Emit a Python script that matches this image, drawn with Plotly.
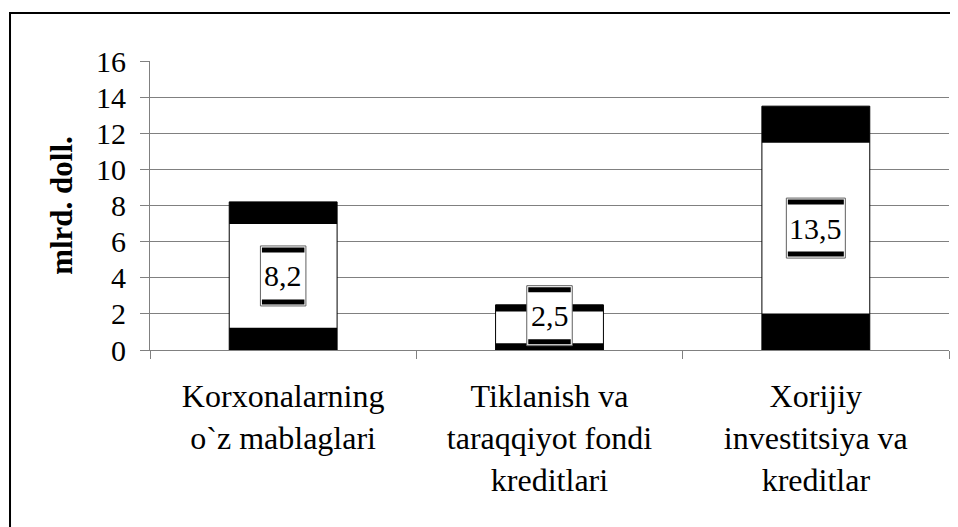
import plotly.graph_objects as go

categories = ["Korxonalarning<br>o`z mablaglari",
              "Tiklanish va<br>taraqqiyot fondi<br>kreditlari",
              "Xorijiy<br>investitsiya va<br>kreditlar"]
values = [8.2, 2.5, 13.5]
y_ticks = [0, 2, 4, 6, 8, 10, 12, 14, 16]
y_title = "mlrd. doll."

FONT = "Liberation Serif"
BAND = 0.15          # share of bar height drawn as black band (styling)
BOX_H = 60           # label box height in px
BOX_BAND = 5         # black band in label box, px

labels = [f"{v:.1f}".replace(".", ",") for v in values]
bands = [v * BAND for v in values]

fig = go.Figure()
# white body with black outline
fig.add_trace(go.Bar(x=categories, y=values, marker=dict(color="white", line=dict(color="black", width=1)),
                     hoverinfo="skip", showlegend=False))
# bottom black band
fig.add_trace(go.Bar(x=categories, y=bands, base=[0]*len(values), marker=dict(color="black", line=dict(width=0)),
                     hoverinfo="skip", showlegend=False))
# top black band
fig.add_trace(go.Bar(x=categories, y=bands, base=[v - b for v, b in zip(values, bands)],
                     marker=dict(color="black", line=dict(width=0)), hoverinfo="skip", showlegend=False))

shapes = []
annotations = []
for i, (v, lab) in enumerate(zip(values, labels)):
    yc = max(v / 2, 1.9)
    w = 13.5 * len(lab) + 5
    common = dict(xref="x", yref="y", xsizemode="pixel", ysizemode="pixel", xanchor=i, yanchor=yc, layer="above")
    shapes.append(dict(type="rect", x0=-w / 2, x1=w / 2, y0=-BOX_H / 2, y1=BOX_H / 2,
                       fillcolor="white", line=dict(color="#606060", width=1), **common))
    shapes.append(dict(type="rect", x0=-w / 2 + 1.5, x1=w / 2 - 1.5, y0=BOX_H / 2 - 1.5 - BOX_BAND, y1=BOX_H / 2 - 1.5,
                       fillcolor="black", line=dict(width=0), **common))
    shapes.append(dict(type="rect", x0=-w / 2 + 1.5, x1=w / 2 - 1.5, y0=-BOX_H / 2 + 1.5, y1=-BOX_H / 2 + 1.5 + BOX_BAND,
                       fillcolor="black", line=dict(width=0), **common))
    annotations.append(dict(x=i, y=yc, xref="x", yref="y", text=lab, showarrow=False,
                            font=dict(family=FONT, size=30, color="black")))

# outer chart border (clipped by the picture at right and bottom)
shapes.append(dict(type="rect", xref="paper", yref="paper", x0=-0.1752, x1=1.2, y0=-1.0, y1=1.166,
                   line=dict(color="black", width=2), fillcolor="rgba(0,0,0,0)", layer="below"))

fig.update_layout(
    width=950, height=519,
    margin=dict(l=142, r=9, t=53, b=177),
    paper_bgcolor="white", plot_bgcolor="white",
    barmode="overlay", bargap=0.595,
    font=dict(family=FONT, size=30, color="black"),
    shapes=shapes, annotations=annotations,
    showlegend=False,
)
fig.update_xaxes(type="category", tickson="boundaries", ticks="outside", ticklen=8, tickcolor="#808080",
                 showline=True, linecolor="#808080", linewidth=1, showgrid=False,
                 tickfont=dict(family=FONT, size=32, color="black"), ticklabelstandoff=18)
fig.update_yaxes(range=[0, 16], tickvals=y_ticks, ticks="outside", ticklen=9, tickcolor="#808080",
                 showline=True, linecolor="#808080", linewidth=1,
                 showgrid=True, gridcolor="#808080", gridwidth=1, zeroline=False,
                 tickfont=dict(family=FONT, size=30, color="black"), ticklabelstandoff=8,
                 title=dict(text="<b>" + y_title + "</b>", font=dict(family=FONT, size=31, color="black"), standoff=14))

fig.write_html("out.html")
